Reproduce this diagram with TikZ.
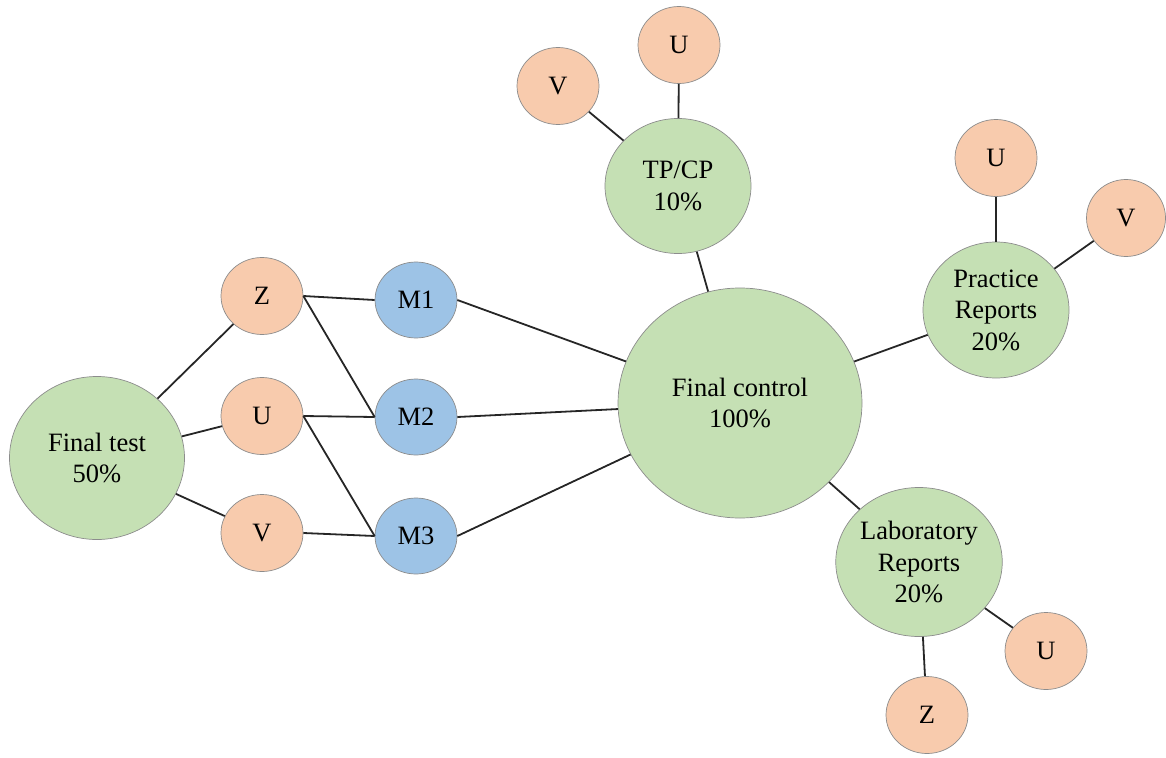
\documentclass[tikz,border=0pt]{standalone}
\usepackage{fontspec}
\setmainfont{Liberation Serif}
\usetikzlibrary{shapes.geometric}
\definecolor{gradegreen}{RGB}{197,224,180}
\definecolor{partorange}{RGB}{248,203,173}
\definecolor{modblue}{RGB}{157,195,230}
\begin{document}
\begin{tikzpicture}[x=1pt,y=-1pt,
		circ/.style={ellipse,draw=black!45,line width=0.7pt,inner sep=0pt,align=center,font=\fontsize{26.5}{31.5}\selectfont},
		grade/.style={circ,fill=gradegreen},
		part/.style={circ,fill=partorange,minimum width=82pt,minimum height=77pt},
		mod/.style={circ,fill=modblue,minimum width=82pt,minimum height=76pt},
		link/.style={line width=1.8pt,black!85}]
		\useasboundingbox (0,0) rectangle (1166,757);

		% Nota final i blocs
		\node[grade,minimum width=244pt,minimum height=230pt] (fc) at (740,403) {Final control\\100\%};
		\node[grade,minimum width=175pt,minimum height=163pt] (ft) at (97,458) {Final test\\50\%};
		\node[grade,minimum width=146pt,minimum height=135pt] (tp) at (678,186) {TP/CP\\10\%};
		\node[grade,minimum width=146pt,minimum height=136pt] (pr) at (996,310) {Practice\\Reports\\20\%};
		\node[grade,minimum width=161pt,minimum height=149pt] (lr) at (919,562) {Laboratory\\Reports\\20\%};

		% Moduls
		\foreach \m/\y in {1/300,2/417,3/536} {
			\node[mod] (M\m) at (416,\y) {M\m};
		}

		% Parts de l'examen final
		\node[part] (ftZ) at (262,296) {Z};
		\node[part] (ftU) at (262,416) {U};
		\node[part] (ftV) at (262,533) {V};

		% Parts dels altres blocs
		\node[part] (tpV) at (558,86) {V};
		\node[part] (tpU) at (679,45) {U};
		\node[part] (prU) at (996,158) {U};
		\node[part,minimum width=79pt] (prV) at (1126,218) {V};
		\node[part] (lrU) at (1046,651) {U};
		\node[part] (lrZ) at (927,715) {Z};

		% Connexions
		\foreach \p in {ftZ,ftU,ftV} {
			\draw[link] (ft) -- (\p);
		}
		\draw[link] (ftZ.east) -- (M1.west);
		\draw[link] (ftZ.east) -- (M2.west);
		\draw[link] (ftU.east) -- (M2.west);
		\draw[link] (ftU.east) -- (M3.west);
		\draw[link] (ftV.east) -- (M3.west);
		\foreach \m in {M1,M2,M3} {
			\draw[link] (\m.east) -- (fc);
		}
		\draw[link] (fc) -- (tp);
		\draw[link] (fc) -- (pr);
		\draw[link] (fc) -- (lr);
		\draw[link] (tp) -- (tpV);
		\draw[link] (tp) -- (tpU);
		\draw[link] (pr) -- (prU);
		\draw[link] (pr) -- (prV);
		\draw[link] (lr) -- (lrU);
		\draw[link] (lr) -- (lrZ);
	\end{tikzpicture}
\end{document}
